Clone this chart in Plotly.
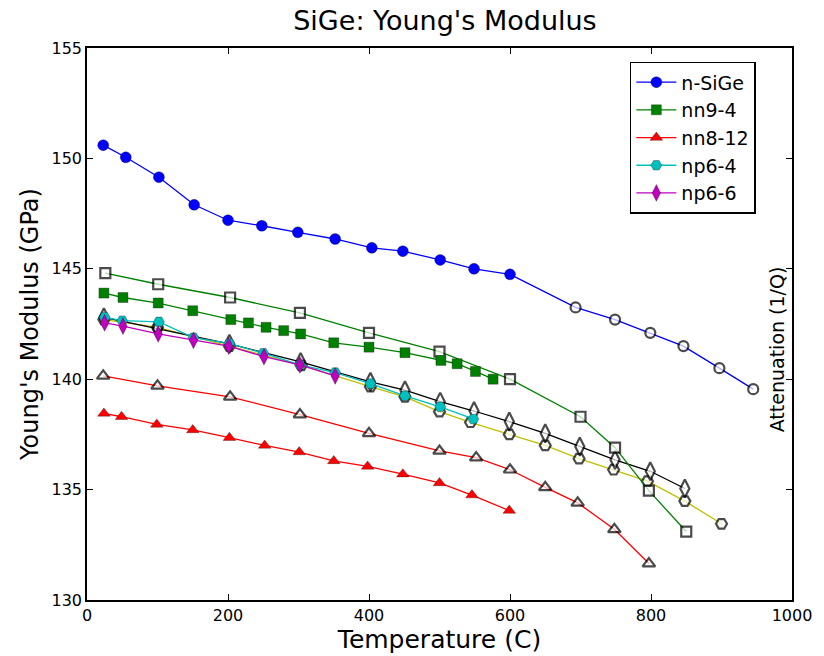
import plotly.graph_objects as go

# ---- data (temperature in C, modulus in GPa) ----
nsige_t = [23, 55, 102, 152, 200, 248, 299, 352, 404, 448, 501, 549, 600]
nsige_e = [150.6, 150.05, 149.15, 147.9, 147.2, 146.95, 146.65, 146.35, 145.95, 145.8, 145.4, 145.0, 144.75]
nsige_open_t = [693, 749, 799, 846, 897, 945]
nsige_open_e = [143.25, 142.7, 142.1, 141.5, 140.5, 139.55]

nn94_t = [24, 51, 101, 150, 204, 229, 254, 279, 303, 350, 400, 451, 502, 525, 551, 576]
nn94_e = [143.9, 143.7, 143.45, 143.1, 142.7, 142.55, 142.35, 142.2, 142.05, 141.65, 141.45, 141.2, 140.85, 140.7, 140.35, 140.0]
nn94_open_t = [26, 101, 203, 302, 400, 500, 600, 700, 749, 797, 850]
nn94_open_e = [144.8, 144.3, 143.7, 143.0, 142.1, 141.25, 140.0, 138.3, 136.9, 134.95, 133.1]

nn812_t = [24, 49, 99, 150, 202, 252, 301, 350, 398, 448, 500, 546, 599]
nn812_e = [138.45, 138.3, 137.95, 137.7, 137.35, 137.0, 136.7, 136.3, 136.05, 135.7, 135.3, 134.75, 134.05]
nn812_open_t = [23, 100, 203, 302, 400, 500, 552, 600, 650, 696, 748, 797]
nn812_open_e = [140.15, 139.7, 139.2, 138.4, 137.55, 136.75, 136.45, 135.9, 135.1, 134.4, 133.2, 131.65]

np64_t = [25, 50, 102, 151, 202, 250, 302, 352, 402, 451, 501, 548]
np64_e = [142.8, 142.65, 142.6, 141.88, 141.62, 141.18, 140.65, 140.3, 139.8, 139.25, 138.75, 138.2]

np66_t = [25, 51, 101, 151, 201, 251, 302, 352]
np66_e = [142.55, 142.4, 142.05, 141.76, 141.5, 141.02, 140.65, 140.15]

diam_open_t = [24, 100, 202, 303, 402, 451, 501, 549, 599, 650, 699, 749, 799, 848]
diam_open_e = [142.8, 142.3, 141.6, 140.78, 139.88, 139.5, 138.98, 138.56, 138.08, 137.55, 136.95, 136.35, 135.83, 135.05]

hex_open_t = [24, 100, 202, 304, 402, 451, 500, 544, 599, 650, 698, 747, 795, 848, 900]
hex_open_e = [142.7, 142.35, 141.5, 140.63, 139.66, 139.2, 138.53, 138.05, 137.5, 137.0, 136.4, 135.9, 135.38, 134.48, 133.45]

x_ticks = [0, 200, 400, 600, 800, 1000]
y_ticks = [130, 135, 140, 145, 150, 155]

FONT = "DejaVu Sans"
fig = go.Figure()

def open_trace(t, e, color, symbol, size=10, lead=None):
    sizes = [size] * len(t)
    if lead is not None:
        t = [lead[0]] + list(t)
        e = [lead[1]] + list(e)
        sizes = [0] + sizes
    fig.add_trace(go.Scatter(
        x=t, y=e, mode="lines+markers", showlegend=False,
        line=dict(color=color, width=1.3),
        marker=dict(symbol=symbol, size=sizes, color="white",
                    line=dict(color="black", width=2.2))))

# open-marker series (drawn first)
open_trace(hex_open_t, hex_open_e, "#bfbf00", "hexagon2", 11)
open_trace(diam_open_t, diam_open_e, "black", "diamond-tall", 13)
open_trace(nn812_open_t, nn812_open_e, "#ff0000", "triangle-up", 11)
open_trace(nn94_open_t, nn94_open_e, "#008000", "square", 10)
open_trace(nsige_open_t, nsige_open_e, "#0000ff", "circle", 10,
           lead=(nsige_t[-1], nsige_e[-1]))

def filled_trace(name, t, e, color, symbol, size=10):
    fig.add_trace(go.Scatter(
        x=t, y=e, mode="lines+markers", name=name,
        line=dict(color=color, width=1.3),
        marker=dict(symbol=symbol, size=size, color=color,
                    line=dict(color="rgba(0,0,0,0.6)", width=0.5))))

filled_trace("n-SiGe", nsige_t, nsige_e, "#0000ff", "circle", 11)
filled_trace("nn9-4", nn94_t, nn94_e, "#008000", "square", 10)
filled_trace("nn8-12", nn812_t, nn812_e, "#ff0000", "triangle-up", 11)
filled_trace("np6-4", np64_t, np64_e, "#00bfbf", "hexagon2", 11)
filled_trace("np6-6", np66_t, np66_e, "#bf00bf", "diamond-tall", 12)

axis_common = dict(
    showline=True, linecolor="black", linewidth=1.5, mirror="ticks",
    ticks="inside", ticklen=6, tickwidth=1, tickcolor="black",
    showgrid=False, zeroline=False,
    tickfont=dict(family=FONT, size=16, color="black"),
)

fig.update_layout(
    width=824, height=656,
    margin=dict(l=87, r=24, t=48, b=53),
    paper_bgcolor="white", plot_bgcolor="white",
    title=dict(text="SiGe: Young's Modulus", x=0.54, xanchor="center",
               y=0.968, yanchor="middle",
               font=dict(family=FONT, size=27, color="black")),
    xaxis=dict(range=[0, 1000], tickvals=x_ticks,
               title=dict(text="Temperature (C)", standoff=2,
                          font=dict(family=FONT, size=25, color="black")),
               **axis_common),
    yaxis=dict(range=[130, 155], tickvals=y_ticks,
               title=dict(text="Young's Modulus (GPa)", standoff=6,
                          font=dict(family=FONT, size=24, color="black")),
               **axis_common),
    legend=dict(x=0.77, y=0.975, xanchor="left", yanchor="top",
                bordercolor="black", borderwidth=1.5, bgcolor="white",
                itemwidth=40, tracegroupgap=0,
                font=dict(family=FONT, size=19, color="black")),
    annotations=[dict(text="Attenuation (1/Q)", xref="paper", yref="paper",
                      x=0.978, y=0.455, xanchor="center", yanchor="middle",
                      textangle=-90, showarrow=False,
                      font=dict(family=FONT, size=19, color="black"))],
)

fig.write_html("out.html")
